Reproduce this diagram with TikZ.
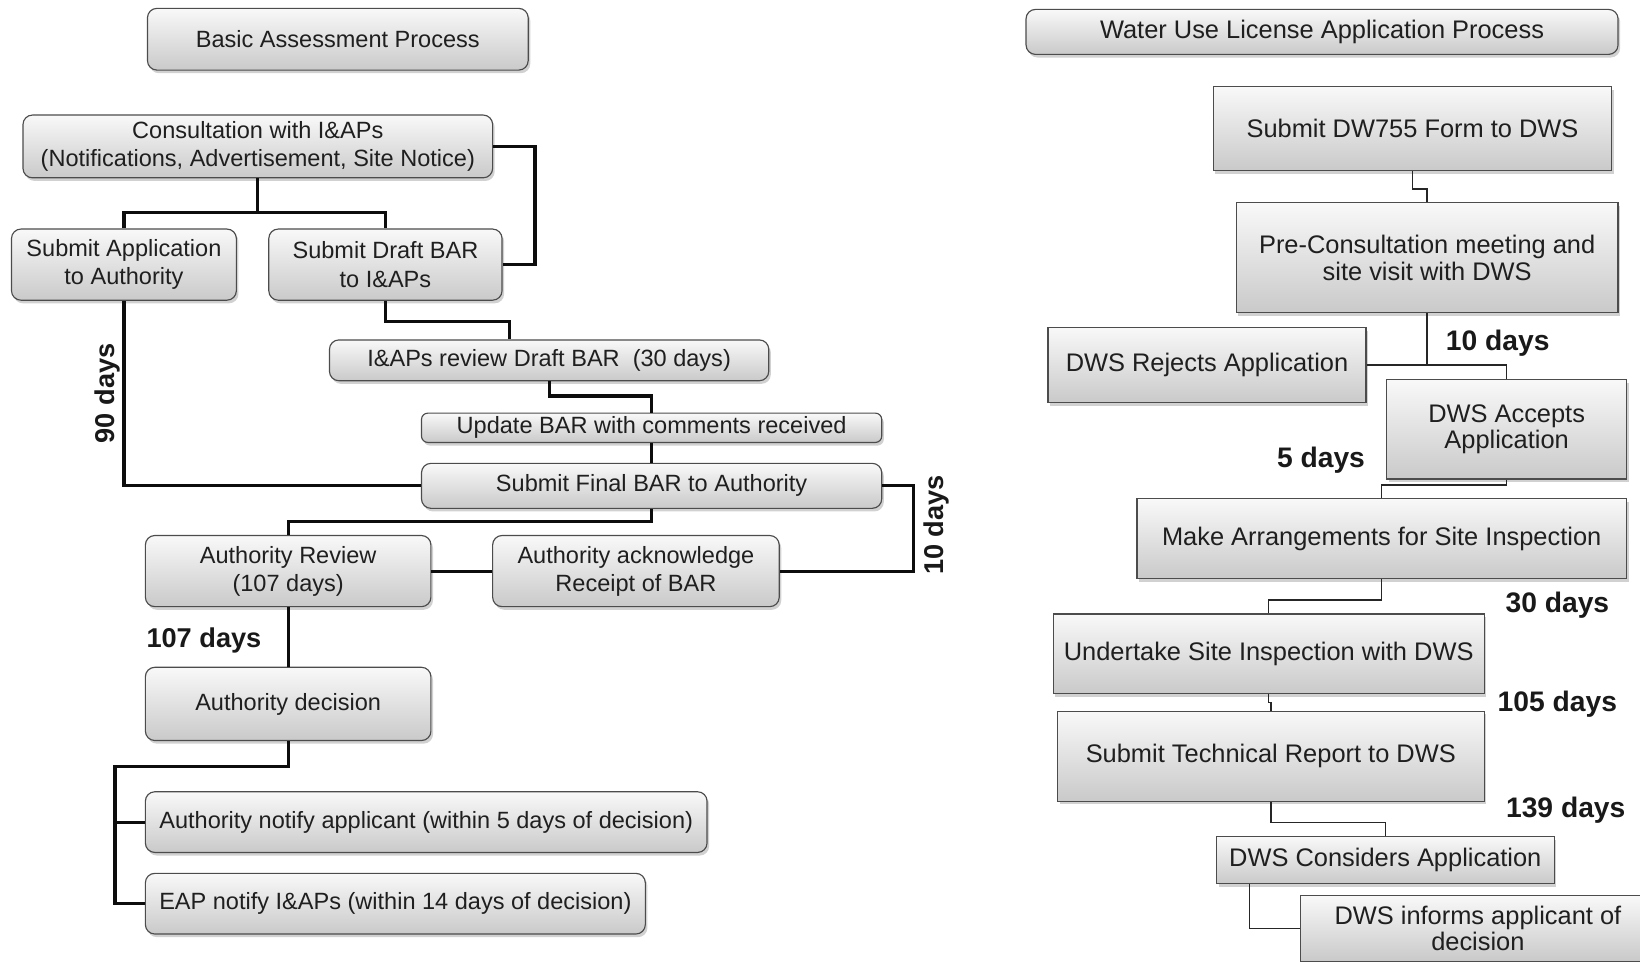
\documentclass[tikz,border=0pt]{standalone}
\usepackage{fontspec}
\setmainfont{Liberation Sans}
\usetikzlibrary{shadows,calc}
\begin{document}
\begin{tikzpicture}[x=1pt,y=-1pt,
 box/.style={draw=black!70, line width=1.1pt, top color=gray!5, bottom color=gray!42,
   drop shadow={shadow xshift=2pt, shadow yshift=-3pt, opacity=0.3, fill=black!60},
   inner sep=0pt, align=center, text=black!88},
 lbox/.style={box, rounded corners=9pt, font=\fontsize{22.5}{27}\selectfont},
 rbox/.style={box, font=\fontsize{24.3}{25.5}\selectfont},
 lline/.style={line width=3pt, black!95},
 rline/.style={line width=1.4pt, black!85},
 days/.style={font=\bfseries\fontsize{26}{30}\selectfont, text=black!90, inner sep=0pt},
 rdays/.style={font=\bfseries\fontsize{27}{30}\selectfont, text=black!90, inner sep=0pt},
]
\clip (0,0) rectangle (1568,919);
% ---------------- left ----------------
\node[lbox, minimum width=364pt, minimum height=59pt] (t1) at (323,37.5) {Basic Assessment Process};
\node[lbox, minimum width=449pt, minimum height=60pt] (cons) at (246.5,140) {Consultation with I\&APs\\(Notifications, Advertisement, Site Notice)};
\node[lbox, minimum width=215pt, minimum height=68pt] (app) at (118.5,253) {Submit Application\\to Authority};
\node[lbox, minimum width=223pt, minimum height=68pt] (draft) at (368.5,253) {Submit Draft BAR\\to I\&APs};
\node[lbox, minimum width=420pt, minimum height=39pt] (review) at (525,344.5) {I\&APs review Draft BAR\ \ (30 days)};
\node[lbox, minimum width=440pt, minimum height=28pt, rounded corners=6pt] (update) at (623,409) {Update BAR with comments received};
\node[lbox, minimum width=440pt, minimum height=43pt] (final) at (623,464.5) {Submit Final BAR to Authority};
\node[lbox, minimum width=273pt, minimum height=68pt] (rev) at (275.5,546) {Authority Review\\(107 days)};
\node[lbox, minimum width=274pt, minimum height=68pt] (ack) at (608,546) {Authority acknowledge\\Receipt of BAR};
\node[lbox, minimum width=273pt, minimum height=70pt] (dec) at (275.5,673) {Authority decision};
\node[lbox, minimum width=537pt, minimum height=58pt] (notify) at (407.5,786) {Authority notify applicant (within 5 days of decision)};
\node[lbox, minimum width=478pt, minimum height=58pt] (eap) at (378,864) {EAP notify I\&APs (within 14 days of decision)};

\draw[lline] (app.north) |- ($(cons.south)+(0,33)$) -| (draft.north);
\draw[lline] (cons.south) -- ++(0,33);
\draw[lline] (cons.east) -- ++(40,0) |- (draft.east);
\draw[lline] (draft.south) -- ++(0,20) -| ([xshift=-38pt]review.north);
\draw[lline] (review.south) -- ++(0,14) -| (update.north);
\draw[lline] (update.south) -- (final.north);
\draw[lline] (app.south) |- (final.west);
\draw[lline] (final.east) -- ++(30,0) |- (ack.east);
\draw[lline] (final.south) -- ++(0,12) -| (rev.north);
\draw[lline] (ack.west) -- (rev.east);
\draw[lline] (rev.south) -- (dec.north);
\coordinate (trunk) at (110,733);
\draw[lline] (dec.south) |- (trunk) |- (eap.west);
\draw[lline] (trunk |- notify.west) -- (notify.west);

\node[days, rotate=90] (l90) at (103,376) {90 days};
\node[days, rotate=90] (l10) at (895,502) {10 days};
\node[days] (l107) at (195,612) {107 days};

% ---------------- right ----------------
\node[rbox, rounded corners=9pt, minimum width=566pt, minimum height=43pt] (t2) at (1264,30.5) {Water Use License Application Process};
\node[rbox, minimum width=381pt, minimum height=80pt] (dw) at (1350.5,123) {Submit DW755 Form to DWS};
\node[rbox, minimum width=365pt, minimum height=105pt] (pre) at (1364.5,246.5) {Pre-Consultation meeting and\\site visit with DWS};
\node[rbox, minimum width=304pt, minimum height=72pt] (rej) at (1154,349) {DWS Rejects Application};
\node[rbox, minimum width=229pt, minimum height=95pt] (acc) at (1440.5,410.5) {DWS Accepts\\Application};
\node[rbox, minimum width=468pt, minimum height=76pt] (make) at (1321,515) {Make Arrangements for Site Inspection};
\node[rbox, minimum width=412pt, minimum height=76pt] (und) at (1213,625) {Undertake Site Inspection with DWS};
\node[rbox, minimum width=408pt, minimum height=86pt] (tech) at (1215,723) {Submit Technical Report to DWS};
\node[rbox, minimum width=323pt, minimum height=45pt] (cons2) at (1324.5,822.5) {DWS Considers Application};
\node[rbox, minimum width=340pt, minimum height=63pt] (inf) at (1413,887.5) {DWS informs applicant of\\decision};

\draw[rline] (dw.south) -- ++(0,17) -| (pre.north);
\draw[rline] (pre.south) |- (rej.east);
\draw[rline] (rej.east) -| (acc.north);
\draw[rline] (acc.south) -- ++(0,5) -| (make.north);
\draw[rline] (make.south) -- ++(0,20) -| (und.north);
\draw[rline] (und.south) -- ++(0,8) -| (tech.north);
\draw[rline] (tech.south) -- ++(0,20) -| (cons2.north);
\draw[rline] ([xshift=-130pt]cons2.south) |- (inf.west);

\node[rdays] (r10) at (1432,328) {10 days};
\node[rdays] (r5) at (1263,440) {5 days};
\node[rdays] (r30) at (1489,579) {30 days};
\node[rdays] (r105) at (1489,673) {105 days};
\node[rdays] (r139) at (1497,775) {139 days};
\end{tikzpicture}
\end{document}
